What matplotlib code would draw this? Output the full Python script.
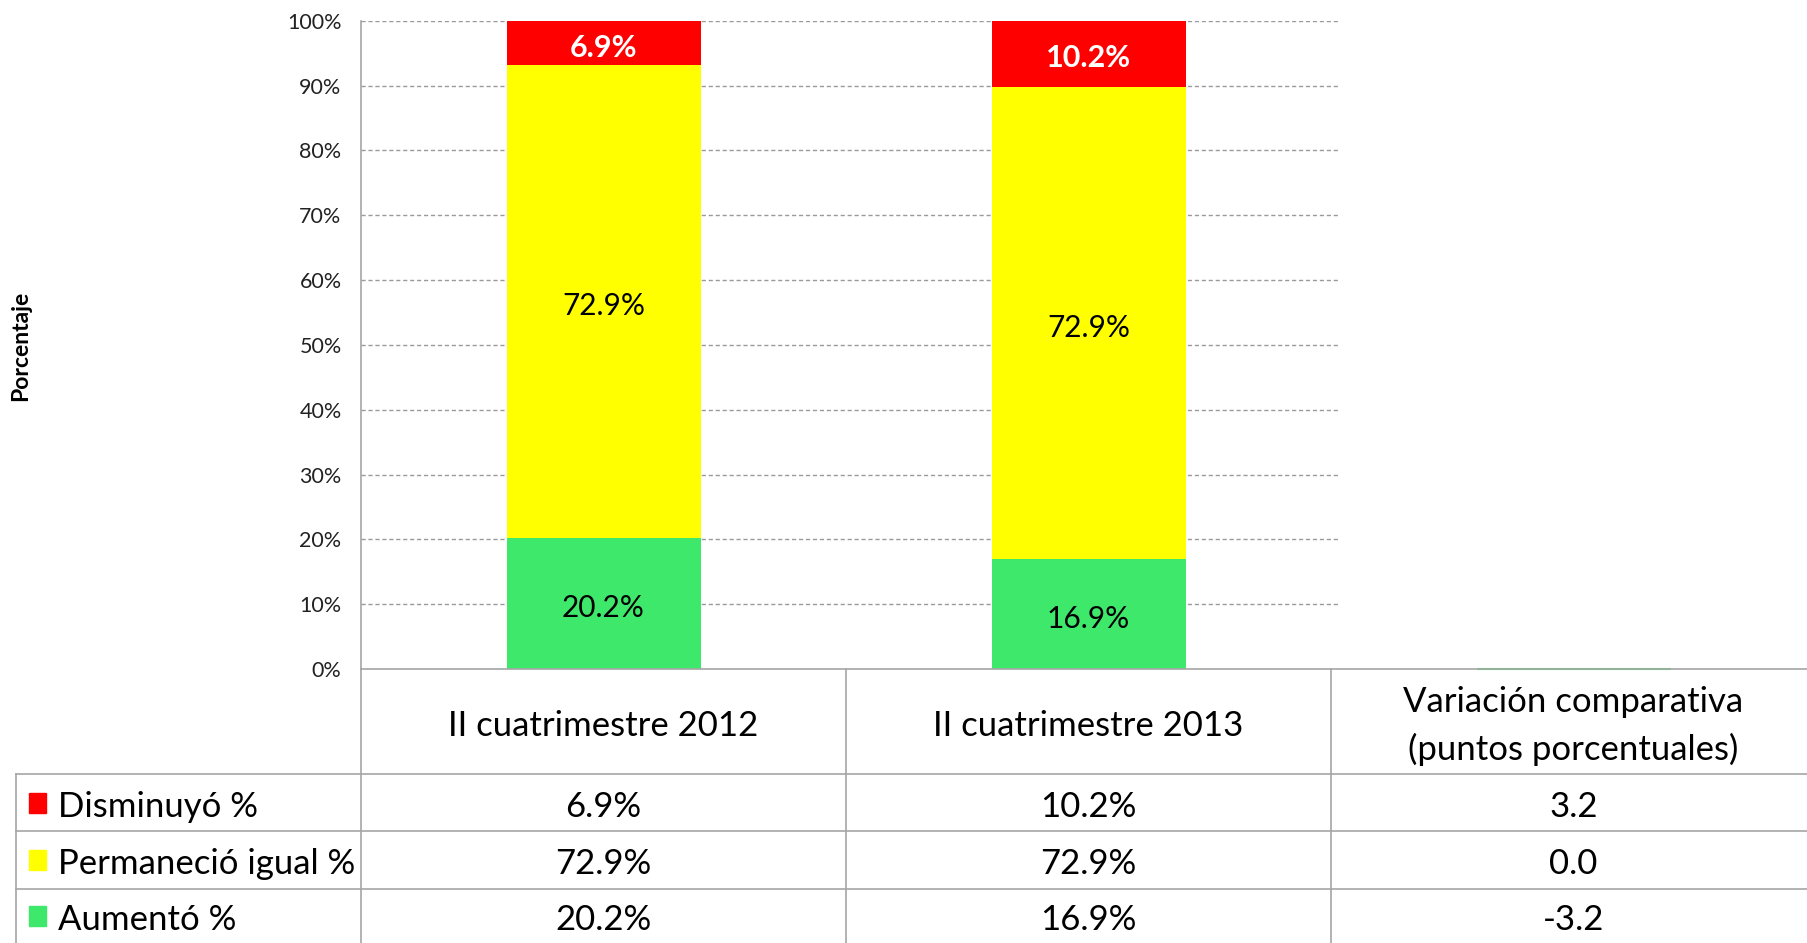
import matplotlib
matplotlib.use("Agg")
import matplotlib.pyplot as plt
import matplotlib.transforms as mtransforms
from matplotlib.patches import Rectangle

categories = ["II cuatrimestre 2012", "II cuatrimestre 2013",
              "Variación comparativa\n(puntos porcentuales)"]
series_names = ["Disminuyó %", "Permaneció igual %", "Aumentó %"]
disminuyo = [6.9, 10.2]
permanecio = [72.9, 72.9]
aumento = [20.2, 16.9]
variacion = [3.2, 0.0, -3.2]
yticks = [0, 10, 20, 30, 40, 50, 60, 70, 80, 90, 100]
ytick_labels = [f"{t}%" for t in yticks]

RED = "#FF0000"
YEL = "#FFFF00"
GRN = "#3DE86B"
GRID = "#9a9a9a"
LINE = "#a6a6a6"

plt.rcParams["font.family"] = ["Lato", "DejaVu Sans"]

W, H = 1808, 943
fig = plt.figure(figsize=(W / 100, H / 100), dpi=100)
left_px, right_px = 361, 361 + 3 * 485
top_px, base_px = 20.75, 669
ax = fig.add_axes([left_px / W, (H - base_px) / H,
                   (right_px - left_px) / W, (base_px - top_px) / H])
ax.set_xlim(-0.5, 2.5)
ax.set_ylim(0, 100)

# gridlines
ax.hlines(yticks[1:], -0.5, 1.515, colors=GRID, linestyles=(0, (3, 2)),
          linewidth=1.0, zorder=0)

x = [0, 1]
bw = 0.4
ax.bar(x, aumento, width=bw, color=GRN, zorder=2)
ax.bar(x, permanecio, width=bw, bottom=aumento, color=YEL, zorder=2)
bot2 = [a + p for a, p in zip(aumento, permanecio)]
ax.bar(x, disminuyo, width=bw, bottom=bot2, color=RED, zorder=2)
# variation column: net stack collapses to a thin line at zero
ax.bar([2], [sum(variacion)], width=bw, color=GRN, edgecolor=GRN,
       linewidth=1.5, zorder=2, clip_on=False)

lab_tr = mtransforms.offset_copy(ax.transData, fig=fig, x=0, y=-4.5,
                                 units="dots")
for i in x:
    ax.text(i, aumento[i] / 2, f"{aumento[i]:.1f}%", ha="center", va="center",
            fontsize=21.5, color="black", zorder=3, transform=lab_tr)
    ax.text(i, aumento[i] + permanecio[i] / 2, f"{permanecio[i]:.1f}%",
            ha="center", va="center", fontsize=21.5, color="black", zorder=3,
            transform=lab_tr)
    ax.text(i, bot2[i] + disminuyo[i] / 2, f"{disminuyo[i]:.1f}%",
            ha="center", va="center", fontsize=22, color="white",
            fontweight="bold", zorder=3, transform=lab_tr)

ax.set_yticks(yticks)
ax.set_yticklabels(ytick_labels, fontsize=15.5, color="#222222")
ax.tick_params(axis="y", length=0, pad=14)
ax.set_xticks([])
for s in ["top", "right"]:
    ax.spines[s].set_visible(False)
ax.spines["left"].set_color(LINE)
ax.spines["bottom"].set_color(LINE)
ax.spines["left"].set_linewidth(1.2)
ax.spines["bottom"].set_linewidth(1.2)

fig.text(21 / W, (H - 346) / H, "Porcentaje", rotation=90, ha="center",
         va="center", fontsize=16.5, fontweight="bold")

# data table
tr = mtransforms.blended_transform_factory(ax.transData, fig.transFigure)
def fy(py):
    return (H - py) / H

rows_y = [774, 831, 889, 943]
for ry in rows_y[:3]:
    fig.add_artist(plt.Line2D([16 / W, 1], [fy(ry), fy(ry)], color=LINE,
                              linewidth=1.2))
fig.add_artist(plt.Line2D([16 / W, 16 / W], [fy(774), 0], color=LINE,
                          linewidth=1.2))
for xb in [-0.5, 0.5, 1.5]:
    ax.add_artist(plt.Line2D([xb, xb], [fy(669), 0], transform=tr,
                             color=LINE, linewidth=1.2, clip_on=False))

for i, c in enumerate(categories):
    ax.text(i, fy(726), c, transform=tr, ha="center", va="center",
            fontsize=25, linespacing=1.55, color="black")

table_vals = [
    [f"{disminuyo[0]:.1f}%", f"{disminuyo[1]:.1f}%", f"{variacion[0]:.1f}"],
    [f"{permanecio[0]:.1f}%", f"{permanecio[1]:.1f}%", f"{variacion[1]:.1f}"],
    [f"{aumento[0]:.1f}%", f"{aumento[1]:.1f}%", f"{variacion[2]:.1f}"],
]
colors = [RED, YEL, GRN]
for r in range(3):
    cy = (rows_y[r] + rows_y[r + 1]) / 2
    fig.add_artist(Rectangle((29 / W, fy(cy + 10)), 17 / W, 20 / H,
                             transform=fig.transFigure, color=colors[r]))
    fig.text(58 / W, fy(cy + 4.5), series_names[r], ha="left", va="center",
             fontsize=25)
    for ci in range(3):
        ax.text(ci, fy(cy + 4.5), table_vals[r][ci], transform=tr,
                ha="center", va="center", fontsize=25)

fig.savefig("out.png", dpi=100)
